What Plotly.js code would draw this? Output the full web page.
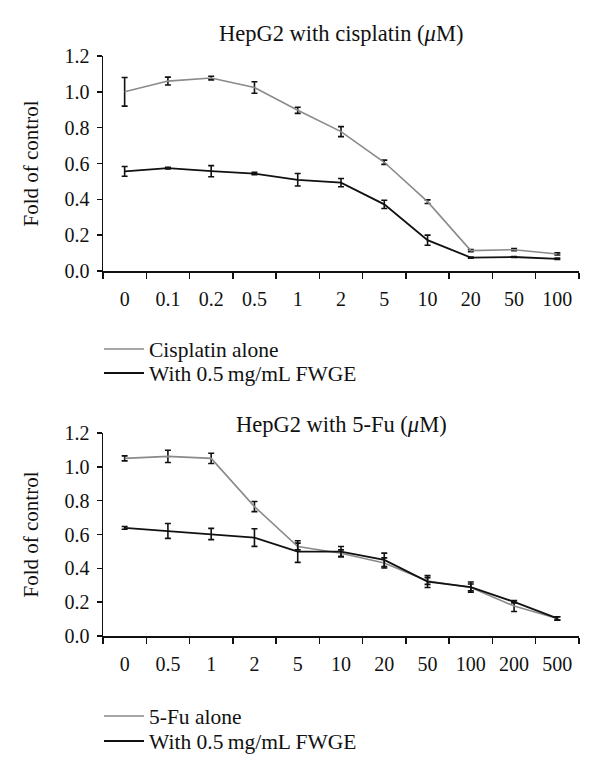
<!DOCTYPE html>
<html>
<head>
<meta charset="utf-8">
<script src="https://cdn.plot.ly/plotly-3.0.1.min.js"></script>
<style>html,body{margin:0;padding:0;background:#fff;}#chart{width:600px;height:775px;}</style>
</head>
<body>
<div id="chart"></div>
<script>
// ---- Data ----
const cisCats = ['0', '0.1', '0.2', '0.5', '1', '2', '5', '10', '20', '50', '100'];
const cisAlone = [1.000, 1.060, 1.077, 1.024, 0.897, 0.778, 0.607, 0.387, 0.114, 0.119, 0.095];
const cisAloneErr = [0.080, 0.022, 0.010, 0.032, 0.017, 0.028, 0.012, 0.010, 0.006, 0.006, 0.006];
const cisFWGE = [0.556, 0.574, 0.557, 0.544, 0.509, 0.493, 0.372, 0.172, 0.075, 0.078, 0.068];
const cisFWGEErr = [0.027, 0.005, 0.031, 0.007, 0.035, 0.023, 0.023, 0.028, 0.003, 0.003, 0.004];

const fuCats = ['0', '0.5', '1', '2', '5', '10', '20', '50', '100', '200', '500'];
const fuAlone = [1.050, 1.062, 1.050, 0.765, 0.529, 0.489, 0.432, 0.325, 0.287, 0.177, 0.104];
const fuAloneErr = [0.015, 0.036, 0.030, 0.030, 0.020, 0.020, 0.030, 0.020, 0.020, 0.032, 0.010];
const fuFWGE = [0.639, 0.621, 0.603, 0.582, 0.499, 0.499, 0.450, 0.322, 0.289, 0.202, 0.104];
const fuFWGEErr = [0.008, 0.044, 0.033, 0.052, 0.064, 0.030, 0.040, 0.035, 0.030, 0.006, 0.010];

const titles = ['HepG2 with cisplatin (<i>μ</i>M)', 'HepG2 with 5-Fu (<i>μ</i>M)'];
const yTitle = 'Fold of control';
const names = ['Cisplatin alone', 'With 0.5\u2009mg/mL FWGE', '5-Fu alone', 'With 0.5\u2009mg/mL FWGE'];

// ---- Styles ----
const FONT = 'Liberation Serif, DejaVu Serif, Times New Roman, serif';
const GRAY = '#8a8a8a';
const BLACK = '#111111';
const W = 600, H = 775;
const py = px => 1 - px / H;

function errBar(arr) {
  return {type: 'data', array: arr, visible: true, color: BLACK, thickness: 1.6, width: 3};
}

const traces = [
  {x: cisCats, y: cisAlone, error_y: errBar(cisAloneErr), name: names[0], type: 'scatter', mode: 'lines',
   line: {color: GRAY, width: 1.6}, xaxis: 'x', yaxis: 'y', legend: 'legend'},
  {x: cisCats, y: cisFWGE, error_y: errBar(cisFWGEErr), name: names[1], type: 'scatter', mode: 'lines',
   line: {color: BLACK, width: 1.8}, xaxis: 'x', yaxis: 'y', legend: 'legend2'},
  {x: fuCats, y: fuAlone, error_y: errBar(fuAloneErr), name: names[2], type: 'scatter', mode: 'lines',
   line: {color: GRAY, width: 1.6}, xaxis: 'x2', yaxis: 'y2', legend: 'legend3'},
  {x: fuCats, y: fuFWGE, error_y: errBar(fuFWGEErr), name: names[3], type: 'scatter', mode: 'lines',
   line: {color: BLACK, width: 1.8}, xaxis: 'x2', yaxis: 'y2', legend: 'legend4'}
];

function xAxis(anchor) {
  return {
    type: 'category', anchor: anchor, domain: [0, 1], range: [-0.5, 10.5],
    showline: true, linecolor: BLACK, linewidth: 1.5, showgrid: false, zeroline: false,
    ticks: 'outside', ticklen: 6, tickwidth: 1.5, tickcolor: BLACK, tickson: 'boundaries',
    ticklabelstandoff: 9,
    tickfont: {family: FONT, size: 20, color: BLACK}, fixedrange: true
  };
}
function yAxis(anchor, dom) {
  return {
    anchor: anchor, domain: dom, range: [0, 1.2], dtick: 0.2, tick0: 0, tickformat: '.1f',
    showline: true, linecolor: BLACK, linewidth: 1.5, showgrid: false, zeroline: false,
    ticks: 'outside', ticklen: 5, tickwidth: 1.5, tickcolor: BLACK, ticklabelstandoff: 3,
    tickfont: {family: FONT, size: 20, color: BLACK},
    title: {text: yTitle, font: {family: FONT, size: 21, color: BLACK}, standoff: 20},
    fixedrange: true
  };
}

const legendBase = {
  orientation: 'v', xanchor: 'left', yanchor: 'middle', bgcolor: 'rgba(0,0,0,0)', x: -0.0084,
  itemwidth: 40,
  font: {family: FONT, size: 21.5, color: BLACK}, itemclick: false, itemdoubleclick: false
};

const layout = {
  width: W, height: H,
  margin: {l: 103, r: 21, t: 0, b: 0},
  paper_bgcolor: '#fff', plot_bgcolor: '#fff',
  font: {family: FONT, size: 20, color: BLACK},
  showlegend: true,
  xaxis: xAxis('y'),
  yaxis: yAxis('x', [py(271), py(56)]),
  xaxis2: xAxis('y2'),
  yaxis2: yAxis('x2', [py(636), py(433)]),
  legend: Object.assign({}, legendBase, {y: py(349)}),
  legend2: Object.assign({}, legendBase, {y: py(373)}),
  legend3: Object.assign({}, legendBase, {y: py(716)}),
  legend4: Object.assign({}, legendBase, {y: py(741)}),
  annotations: [
    {text: titles[0], xref: 'paper', yref: 'paper', x: 0.5, y: py(33), xanchor: 'center', yanchor: 'middle',
     showarrow: false, font: {family: FONT, size: 22.5, color: BLACK}},
    {text: titles[1], xref: 'paper', yref: 'paper', x: 0.5, y: py(424), xanchor: 'center', yanchor: 'middle',
     showarrow: false, font: {family: FONT, size: 22.5, color: BLACK}}
  ]
};

Plotly.newPlot('chart', traces, layout, {displayModeBar: false, staticPlot: true});
</script>
</body>
</html>
